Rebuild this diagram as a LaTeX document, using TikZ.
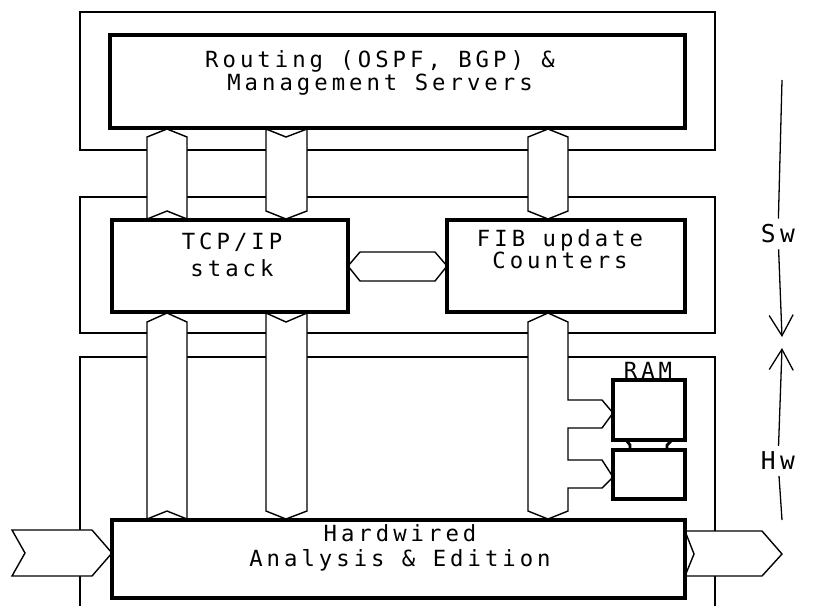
\documentclass[tikz,border=0pt]{standalone}
\usepackage{fontspec}
\setmainfont{DejaVu Sans Mono}[LetterSpace=18]
\usetikzlibrary{arrows.meta, calc}

\tikzset{
  panel/.style={line width=1.1pt},
  block/.style={line width=3.6pt, line join=miter},
  bus/.style={draw, fill=white, line width=1.2pt, line join=miter},
  txt/.style={font=\fontsize{19}{19.6}\selectfont, align=center, inner sep=1pt}
}

\begin{document}
\begin{tikzpicture}[x=0.03cm, y=-0.03cm, >={Straight Barb[length=0.62cm, width=0.72cm]}]

\fill[white] (0,0) rectangle (815,606);
\useasboundingbox (0,0) rectangle (815,606);

% =========== Panels ===========
\draw[panel] (80,12) rectangle (715,150);
\draw[panel] (80,197) rectangle (715,333);
\draw[panel] (80,606) -- (80,357) -- (715,357) -- (715,606);

% =========== Buses: top to middle ===========
% col A (up)
\draw[bus] (147,137) -- (167,129) -- (187,137) -- (187,219) -- (167,211) -- (147,219) -- cycle;
% col B (down)
\draw[bus] (266,129) -- (286,137) -- (307,129) -- (307,211) -- (286,219) -- (266,211) -- cycle;
% col C (both ways)
\draw[bus] (528,137) -- (548,129) -- (568,137) -- (568,211) -- (548,219) -- (528,211) -- cycle;

% =========== Buses: middle to bottom ===========
\draw[bus] (147,322) -- (167,313) -- (187,322) -- (187,519) -- (167,511) -- (147,519) -- cycle;
\draw[bus] (266,313) -- (286,322) -- (307,313) -- (307,511) -- (286,519) -- (266,511) -- cycle;
% col C with branches to RAM
\draw[bus] (528,322) -- (548,313) -- (568,322) -- (568,400) -- (602,400) -- (613,413)
  -- (602,428) -- (568,428) -- (568,460) -- (602,460) -- (613,477) -- (602,488)
  -- (568,488) -- (568,511) -- (548,519) -- (528,511) -- cycle;

% TCP/IP <-> FIB
\draw[bus] (348,266) -- (360,252) -- (435,252) -- (447,266) -- (435,281) -- (360,281) -- cycle;

% In / out
\draw[bus] (12,530) -- (92,530) -- (112,553) -- (92,576) -- (12,576) -- (25,553) -- cycle;
\draw[bus] (685,531) -- (762,531) -- (782,554) -- (762,576) -- (685,576) -- (694,554) -- cycle;

% =========== Blocks ===========
\draw[block] (110,35) rectangle (685,128);
\node[txt] (routing) at (380,73) {Routing (OSPF, BGP) \&\\Management Servers};

\draw[block] (112,220) rectangle (348,312);
\node[txt, font=\fontsize{19}{23.5}\selectfont] (tcp) at (232,255) {TCP/IP\\stack};

\draw[block] (447,220) rectangle (685,312);
\node[txt, font=\fontsize{19}{18.8}\selectfont] (fib) at (560,249) {FIB update\\Counters};

\draw[block] (112,520) rectangle (685,598);
\node[txt, font=\fontsize{19}{21.3}\selectfont] (hw) at (400,548) {Hardwired\\Analysis \& Edition};

% RAM
\draw[block] (613,380) rectangle (685,440);
\draw[block] (613,450) rectangle (685,499);
\draw[line width=2.4pt] (613,440) -- (626,440) -- (630,445) -- (630,450);
\draw[line width=2.4pt] (685,440) -- (672,440) -- (667,445) -- (667,450);
\node[txt] (ram) at (648,370) {RAM};

% =========== Sw / Hw ===========
\coordinate (swtop) at (782,80);
\coordinate (swtip) at (782,337);
\coordinate (hwtip) at (782,348);
\coordinate (hwend) at (782,520);
\node[txt, inner sep=5pt, font=\fontsize{21}{24}\selectfont] (sw) at (778,234) {Sw};
\node[txt, inner sep=5pt, font=\fontsize{21}{24}\selectfont] (hwl) at (778,461) {Hw};
\draw[panel] (swtop) -- (sw);
\draw[panel, ->] (sw) -- (swtip);
\draw[panel, ->] (hwl) -- (hwtip);
\draw[panel] (hwl) -- (hwend);

\end{tikzpicture}
\end{document}
